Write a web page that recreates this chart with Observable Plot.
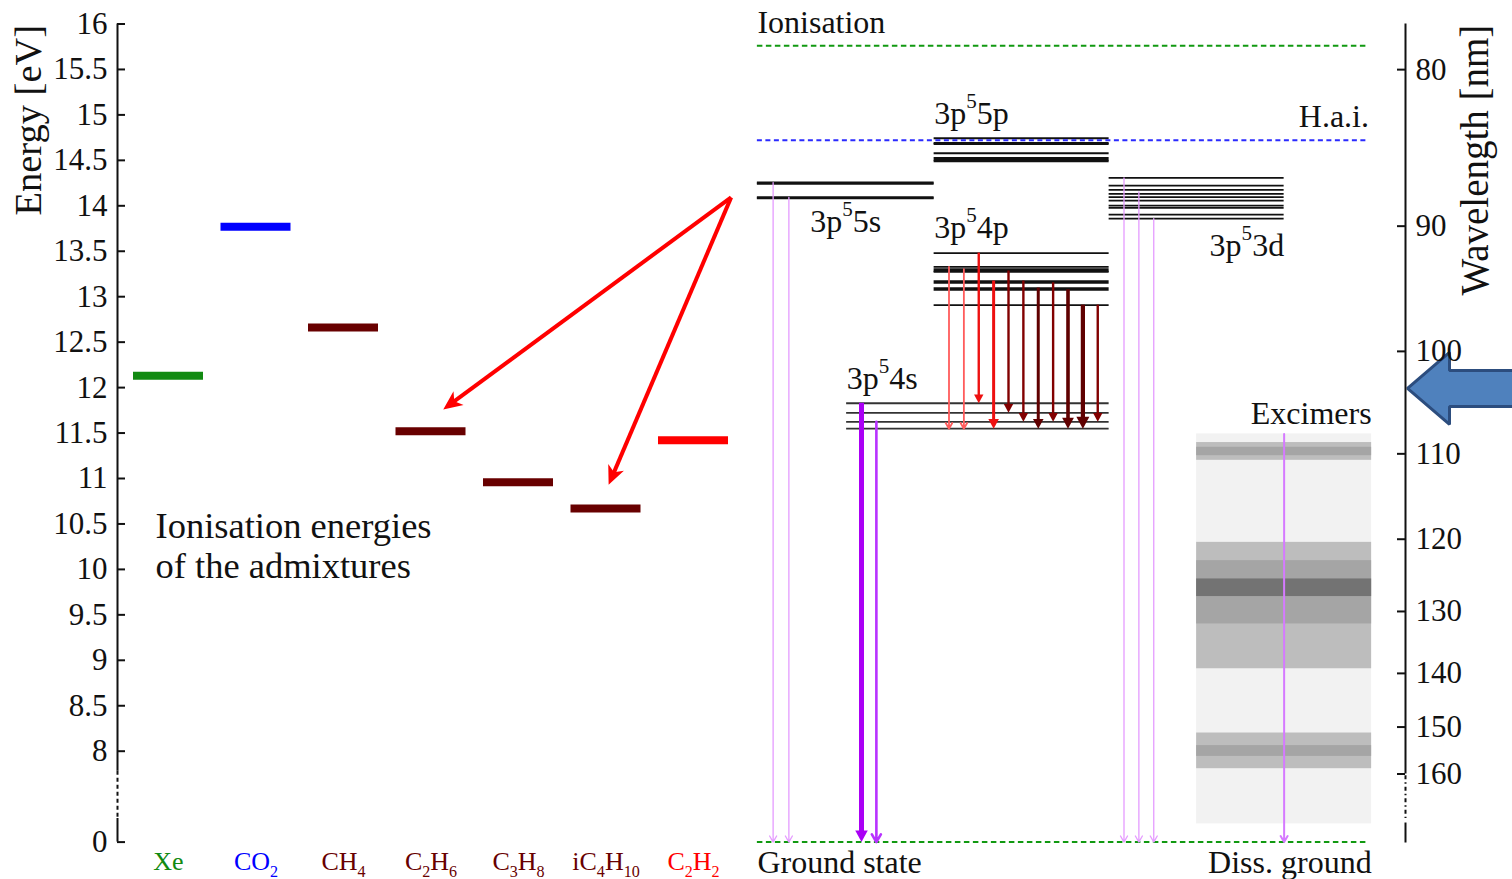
<!DOCTYPE html>
<html>
<head>
<meta charset="utf-8">
<script src="https://cdn.jsdelivr.net/npm/d3@7"></script>
<script src="https://cdn.jsdelivr.net/npm/@observablehq/plot@0.6"></script>
<style>
  html, body { margin: 0; padding: 0; background: #fff; }
  #chart svg { display: block; }
</style>
</head>
<body>
<div id="chart"></div>
<script>
// ---------------- DATA ----------------
const HC = 1239.84; // eV*nm

// admixture gases and their ionisation energies (eV)
const gases = ["Xe", "CO_{2}", "CH_{4}", "C_{2}H_{6}", "C_{3}H_{8}", "iC_{4}H_{10}", "C_{2}H_{2}"];
const gasIonisationEnergy = [12.13, 13.77, 12.66, 11.52, 10.96, 10.67, 11.42];

// axis ticks
const energyTicks = [0, 8, 8.5, 9, 9.5, 10, 10.5, 11, 11.5, 12, 12.5, 13, 13.5, 14, 14.5, 15, 15.5, 16];
const wavelengthTicks = [80, 90, 100, 110, 120, 130, 140, 150, 160];

// argon reference energies (eV)
const ionisationEnergy = 15.76;
const haiThreshold = 14.72;
const groundEnergy = 0;

// argon level groups (eV)
const levels5s = [14.083, 14.093, 14.245, 14.255];
const levels5p = [14.490, 14.505, 14.525, 14.579, 14.681, 14.690, 14.744];
const levels4p = [12.907, 13.076, 13.095, 13.153, 13.172, 13.273, 13.283, 13.302, 13.328, 13.480];
const levels3d = [13.859, 13.904, 13.978, 14.003, 14.058, 14.095, 14.132, 14.176, 14.223, 14.308];
const levels4s = [11.548, 11.624, 11.723, 11.828];

// 3p5 4p -> 3p5 4s transitions (eV) and relative intensity (1..5)
const irUpper = [13.328, 13.302, 13.480, 13.172, 13.283, 13.172, 13.095, 13.153, 13.076, 12.907, 12.907];
const irLower = [11.548, 11.548, 11.828, 11.548, 11.723, 11.624, 11.548, 11.624, 11.548, 11.548, 11.624];
const irIntensity = [1, 1, 2, 3, 2, 2, 3, 2, 4, 5, 2];

// VUV transitions to the ground state (upper level, eV)
const vuv5sUpper = [14.255, 14.093];
const vuv4sUpper = [11.828, 11.624];
const vuv4sIntensity = [5, 2];
const vuv3dUpper = [14.308, 14.153, 13.859];

// excimer emission region (nm) and bands (nm) with density level 1..3
const excimerSpan = [107.9, 172.2];
const excimerBandFrom = [108.8, 109.3, 120.4, 122.8, 125.3, 151.2, 153.8];
const excimerBandTo   = [110.7, 110.2, 139.2, 131.9, 127.8, 158.8, 156.1];
const excimerBandLevel = [1, 2, 1, 2, 3, 1, 2];

// wavelength marked by the big blue pointer (nm)
const pointerWavelength = 103.4;

// ---------------- LAYOUT / STYLE ----------------
const W = 1512, H = 879;
const M = {left: 117, right: 107, top: 23.5, bottom: 37.4};
const X_ORIGIN = 80.5, X_UNIT = 87.5;          // px of x = 0, px per gas slot
const AXIS_ZERO = 7;                            // broken axis: 0 eV drawn here
const AXIS_BREAK = [7.78, 7.26];
const xDomain = [(M.left - X_ORIGIN) / X_UNIT, (W - M.right - X_ORIGIN) / X_UNIT];
const Y_UNIT = (H - M.bottom - M.top) / (16 - AXIS_ZERO);
const FRAME_W = W - M.left - M.right;
const TICK = 8;
const yOf = e => (e === 0 ? AXIS_ZERO : e);
const pxX = p => p / X_UNIT, pxY = p => p / Y_UNIT;

const COL = {
  s5: [7.73, 9.75], p: [9.75, 11.75], d3: [11.75, 13.75], s4: [8.75, 11.75],
  exc: [12.75, 14.75], lines: [7.73, 14.72]
};
const GAS_COLORS = ["#128a12", "#0000ff", "#680000", "#680000", "#680000", "#680000", "#ff0000"];
const SHADES = ["#f2f2f2", "#bdbdbd", "#a5a5a5", "#737373"];
const INK = "#111";
const FONT = "'Liberation Serif', 'Times New Roman', serif";

// downward filled arrow head, tip at the origin (r = half width)
const headDown = {
  draw(ctx, size) {
    const r = Math.sqrt(size / Math.PI), h = 1.85 * r;
    ctx.moveTo(0, 0); ctx.lineTo(-r, -h); ctx.lineTo(r, -h); ctx.closePath();
  }
};
// notched filled arrow head pointing along screen direction (ux, uy), tip at origin
const headAlong = (ux, uy, len, half) => ({
  draw(ctx) {
    const nx = -uy, ny = ux;
    ctx.moveTo(0, 0);
    ctx.lineTo(-ux * len + nx * half, -uy * len + ny * half);
    ctx.lineTo(-ux * len * 0.72, -uy * len * 0.72);
    ctx.lineTo(-ux * len - nx * half, -uy * len - ny * half);
    ctx.closePath();
  }
});

// ---------------- DERIVED TABLES ----------------
const gasData = gases.map((g, i) => ({name: g, x: i + 1, e: gasIonisationEnergy[i], color: GAS_COLORS[i]}));
const irData = irUpper.map((u, k) => ({
  x: COL.p[0] + 0.17 * (k + 1), from: u, to: irLower[k],
  intensity: irIntensity[k], lambda: HC / (u - irLower[k])
}));
const irColor = d => d.lambda < 720 ? "#ff5c5c" : d.lambda < 780 ? "#ee1010" : (d.intensity >= 3 ? "#600000" : "#820000");
const irWidth = i => 1.2 + 0.6 * i;
const irHead = i => 7 + 1.2 * i;

const vuv5s = vuv5sUpper.map((e, k) => ({x: COL.s5[0] + 0.18 * (k + 1), from: e, to: groundEnergy}));
const vuv3d = vuv3dUpper.map((e, k) => ({x: COL.d3[0] + 0.17 * (k + 1), from: e, to: groundEnergy}));
const vuv4s = vuv4sUpper.map((e, k) => ({x: COL.s4[0] + 0.17 * (k + 1), from: e, to: groundEnergy, intensity: vuv4sIntensity[k]}));
const excimerArrow = [{x: (COL.exc[0] + COL.exc[1]) / 2, from: HC / excimerSpan[0], to: groundEnergy}];

const bands = [{from: excimerSpan[0], to: excimerSpan[1], level: 0}].concat(
  excimerBandFrom.map((f, i) => ({from: f, to: excimerBandTo[i], level: excimerBandLevel[i]}))
).sort((a, b) => a.level - b.level);

// annotation arrows: from the 3p5 5s level towards two admixtures
const ANN_HEAD = {len: 19, half: 8.5};
const annSource = {x: COL.s5[0] - 0.3, e: levels5s[1]};
const annArrows = [{gas: 3, dx: 0.14, de: 0.24}, {gas: 5, dx: 0.03, de: 0.26}].map(t => {
  const x1 = annSource.x, y1 = annSource.e;
  const x2 = gasData[t.gas].x + t.dx, y2 = gasData[t.gas].e + t.de;
  const sx = (x2 - x1) * X_UNIT, sy = -(y2 - y1) * Y_UNIT, n = Math.hypot(sx, sy);
  const ux = sx / n, uy = sy / n;
  return {x1, y1, x2, y2, ux, uy,
    xs: x2 - pxX(ux * ANN_HEAD.len * 0.6), ys: y2 + pxY(uy * ANN_HEAD.len * 0.6)};
});

// blue pointer polygon
const tipX = xDomain[1] + pxX(2), tipE = HC / pointerWavelength;
const pointer = [
  [tipX, tipE],
  [tipX + pxX(42), tipE + pxY(36)],
  [tipX + pxX(42), tipE + pxY(18)],
  [tipX + pxX(140), tipE + pxY(18)],
  [tipX + pxX(140), tipE - pxY(18)],
  [tipX + pxX(42), tipE - pxY(18)],
  [tipX + pxX(42), tipE - pxY(36)]
];

// open-headed vertical arrow
const openArrow = (data, color, sw, wing) => Plot.arrow(data, {
  x1: "x", x2: "x", y1: "from", y2: d => yOf(d.to),
  stroke: color, strokeWidth: sw, headLength: 1.5 * wing / sw, headAngle: 60
});
// filled-headed vertical arrow: shaft + triangular head
const filledArrow = (data, color, sw, headW) => [
  Plot.ruleX(data, {x: "x", y1: "from", y2: d => yOf(d.to) + pxY(headW * 0.8), stroke: color, strokeWidth: sw}),
  Plot.dot(data, {x: "x", y: d => yOf(d.to), symbol: headDown, r: headW / 2, fill: color, stroke: "none"})
];

const labelFont = 32;

const chart = Plot.plot({
  width: W, height: H,
  marginLeft: M.left, marginRight: M.right, marginTop: M.top, marginBottom: M.bottom,
  x: {domain: xDomain, axis: null},
  y: {domain: [AXIS_ZERO, 16]},
  style: {fontFamily: FONT, fontSize: "31px", color: INK, background: "white"},
  marks: [
    // excimer bands
    Plot.rect(bands, {x1: COL.exc[0], x2: COL.exc[1], y1: d => HC / d.from, y2: d => HC / d.to, fill: d => SHADES[d.level]}),

    // level lines
    Plot.ruleY(levels5s, {x1: COL.s5[0], x2: COL.s5[1], stroke: INK, strokeWidth: 2.2}),
    Plot.ruleY(levels5p, {x1: COL.p[0], x2: COL.p[1], stroke: INK, strokeWidth: 2}),
    Plot.ruleY(levels4p, {x1: COL.p[0], x2: COL.p[1], stroke: INK, strokeWidth: 1.8}),
    Plot.ruleY(levels3d, {x1: COL.d3[0], x2: COL.d3[1], stroke: INK, strokeWidth: 1.8}),
    Plot.ruleY(levels4s, {x1: COL.s4[0], x2: COL.s4[1], stroke: "#333", strokeWidth: 1.8}),

    // reference dashed lines
    Plot.ruleY([ionisationEnergy], {x1: COL.lines[0], x2: COL.lines[1], stroke: "#119911", strokeWidth: 2, strokeDasharray: "5.5,3.5"}),
    Plot.ruleY([haiThreshold], {x1: COL.lines[0], x2: COL.lines[1], stroke: "#2a2aff", strokeWidth: 2, strokeDasharray: "5,3.5"}),
    Plot.ruleY([yOf(groundEnergy)], {x1: COL.lines[0], x2: COL.lines[1], stroke: "#119911", strokeWidth: 2, strokeDasharray: "5.5,3.5"}),

    // VUV transitions to ground
    openArrow(vuv5s, "#e59cff", 1.3, 7),
    openArrow(vuv3d, "#e59cff", 1.3, 7),
    openArrow(excimerArrow, "#d57aff", 2, 7),
    openArrow(vuv4s.filter(d => d.intensity === 2), "#b833ff", 2.6, 9),
    ...filledArrow(vuv4s.filter(d => d.intensity === 5), "#aa00f5", 5, 12.5),

    // 4p -> 4s transitions
    openArrow(irData.filter(d => d.intensity === 1), irColor, irWidth(1), 6.5),
    ...[2, 3, 4, 5].flatMap(i => filledArrow(irData.filter(d => d.intensity === i), irColor, irWidth(i), irHead(i))),

    // admixture ionisation energies
    Plot.ruleY(gasData, {x1: d => d.x - 0.4, x2: d => d.x + 0.4, y: "e", stroke: "color", strokeWidth: 8}),

    // annotation arrows (shaft + notched head)
    Plot.link(annArrows, {x1: "x1", y1: "y1", x2: "xs", y2: "ys", stroke: "#ff0000", strokeWidth: 4}),
    ...annArrows.map(a => Plot.dot([a], {x: "x2", y: "y2", symbol: headAlong(a.ux, a.uy, ANN_HEAD.len, ANN_HEAD.half), r: 5, fill: "#ff0000", stroke: "none"})),

    // blue pointer
    Plot.line(pointer, {x: d => d[0], y: d => d[1], curve: "linear-closed", fill: "#4f81bd", stroke: "#2c4d7e", strokeWidth: 3, strokeLinejoin: "miter"}),

    // left axis (broken)
    Plot.ruleX([xDomain[0]], {y1: 16, y2: AXIS_BREAK[0], stroke: INK, strokeWidth: 2}),
    Plot.ruleX([xDomain[0]], {y1: AXIS_BREAK[0], y2: AXIS_BREAK[1], stroke: INK, strokeWidth: 2, strokeDasharray: "4,3"}),
    Plot.ruleX([xDomain[0]], {y1: AXIS_BREAK[1], y2: AXIS_ZERO, stroke: INK, strokeWidth: 2}),
    Plot.ruleY(energyTicks.map(yOf), {insetRight: FRAME_W - TICK, stroke: INK, strokeWidth: 2}),
    Plot.axisY({anchor: "left", ticks: energyTicks.map(yOf), tickFormat: d => d === AXIS_ZERO ? "0" : String(d),
      tickSize: 0, tickPadding: 10, fontSize: 31, label: null}),

    // right axis (wavelength)
    Plot.ruleX([xDomain[1]], {y1: 16, y2: HC / wavelengthTicks[wavelengthTicks.length - 1], stroke: INK, strokeWidth: 2}),
    Plot.ruleX([xDomain[1]], {y1: AXIS_BREAK[0] - 0.05, y2: AXIS_BREAK[1], stroke: INK, strokeWidth: 2, strokeDasharray: "4,3,1.5,3"}),
    Plot.ruleX([xDomain[1]], {y1: AXIS_BREAK[1] - 0.05, y2: AXIS_ZERO - 0.01, stroke: INK, strokeWidth: 2}),
    Plot.ruleY(wavelengthTicks.map(l => HC / l), {insetLeft: FRAME_W - TICK, stroke: INK, strokeWidth: 2}),
    Plot.axisY({anchor: "right", ticks: wavelengthTicks.map(l => HC / l), tickFormat: d => String(Math.round(HC / d)),
      tickSize: 0, tickPadding: 10, fontSize: 31, label: null}),

    // axis titles
    Plot.text(["Energy [eV]"], {frameAnchor: "top-left", dx: -89, dy: 191.5, rotate: -90, textAnchor: "start", lineAnchor: "middle", fontSize: 38.5, fill: INK}),
    Plot.text(["Wavelength [nm]"], {frameAnchor: "top-right", dx: 70, dy: 271.5, rotate: -90, textAnchor: "start", lineAnchor: "middle", fontSize: 39, fill: INK}),

    // gas labels
    Plot.text(gasData, {x: "x", frameAnchor: "bottom", dy: 28, text: "name", fill: "color", fontSize: 26, textAnchor: "middle", lineAnchor: "bottom"}),

    // level / line labels
    Plot.text(["Ionisation"], {x: COL.lines[0], y: ionisationEnergy, dy: -13, textAnchor: "start", lineAnchor: "bottom", fontSize: labelFont, fill: INK}),
    Plot.text(["H.a.i."], {x: COL.lines[1], y: haiThreshold, dy: -13, textAnchor: "end", lineAnchor: "bottom", fontSize: labelFont, fill: INK}),
    Plot.text(["3p^{5}5p"], {x: COL.p[0], y: d3.max(levels5p), dy: -14, textAnchor: "start", lineAnchor: "bottom", fontSize: labelFont, fill: INK}),
    Plot.text(["3p^{5}5s"], {x: (COL.s5[0] + COL.s5[1]) / 2, y: d3.min(levels5s), dy: 34, textAnchor: "middle", lineAnchor: "bottom", fontSize: labelFont, fill: INK}),
    Plot.text(["3p^{5}4p"], {x: COL.p[0], y: d3.max(levels4p), dy: -15, textAnchor: "start", lineAnchor: "bottom", fontSize: labelFont, fill: INK}),
    Plot.text(["3p^{5}3d"], {x: COL.d3[1], y: d3.min(levels3d), dy: 37, textAnchor: "end", lineAnchor: "bottom", fontSize: labelFont, fill: INK}),
    Plot.text(["3p^{5}4s"], {x: COL.s4[0], y: d3.max(levels4s), dy: -14, textAnchor: "start", lineAnchor: "bottom", fontSize: labelFont, fill: INK}),
    Plot.text(["Excimers"], {x: COL.exc[1], y: HC / excimerSpan[0], dy: -10, textAnchor: "end", lineAnchor: "bottom", fontSize: labelFont, fill: INK}),
    Plot.text(["Ground state"], {x: COL.lines[0], y: yOf(groundEnergy), dy: 31, textAnchor: "start", lineAnchor: "bottom", fontSize: labelFont, fill: INK}),
    Plot.text(["Diss. ground"], {x: COL.exc[1], y: yOf(groundEnergy), dy: 31, textAnchor: "end", lineAnchor: "bottom", fontSize: labelFont, fill: INK}),

    // annotation text
    Plot.text(["Ionisation energies\nof the admixtures"], {frameAnchor: "top-left", dx: 38, dy: 485, textAnchor: "start", lineAnchor: "top", lineHeight: 1.1, fontSize: 36.5, fill: INK})
  ]
});

document.getElementById("chart").append(chart);

// render _{..} as subscripts and ^{..} as superscripts
(function richText(root) {
  const NS = "http://www.w3.org/2000/svg";
  root.querySelectorAll("text").forEach(t => {
    const s = t.textContent;
    if (!/[_^]\{/.test(s)) return;
    const fs = parseFloat(getComputedStyle(t).fontSize) || 16;
    const shift = {base: 0, "_": 0.27 * fs, "^": -0.5 * fs};
    const size = {"_": 0.62 * fs, "^": 0.66 * fs};
    while (t.firstChild) t.removeChild(t.firstChild);
    let cur = 0, m;
    const re = /([_^])\{([^}]*)\}|([^_^]+)/g;
    while ((m = re.exec(s))) {
      const ts = document.createElementNS(NS, "tspan");
      const kind = m[1] || "base";
      const target = shift[kind];
      if (target !== cur) ts.setAttribute("dy", (target - cur).toFixed(2));
      cur = target;
      if (m[1]) ts.setAttribute("font-size", size[m[1]].toFixed(1));
      ts.textContent = m[1] ? m[2] : m[3];
      t.appendChild(ts);
    }
  });
})(chart);
</script>
</body>
</html>
